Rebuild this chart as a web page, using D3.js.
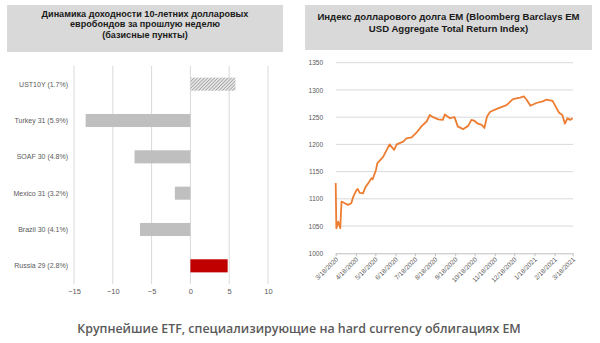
<!DOCTYPE html>
<html>
<head>
<meta charset="utf-8">
<script src="https://cdn.jsdelivr.net/npm/d3@7"></script>
<style>
  html, body { margin: 0; padding: 0; background: #fff; }
  svg { display: block; }
</style>
</head>
<body>
<svg id="chart" width="600" height="343"></svg>
<script>
// Weekly change in 10Y USD eurobond yields, basis points
const bondNames = ["UST10Y (1.7%)", "Turkey 31 (5.9%)", "SOAF 30 (4.8%)", "Mexico 31 (3.2%)", "Brazil 30 (4.1%)", "Russia 29 (2.8%)"];
const bondChange = [5.8, -13.5, -7.2, -2.0, -6.5, 4.8];
const bondTicks = [-15, -10, -5, 0, 5, 10];

// Bloomberg Barclays EM USD Aggregate Total Return Index
const indexDates = [
  "2020-03-18","2020-03-19","2020-03-22","2020-03-25","2020-03-27","2020-04-01","2020-04-06","2020-04-11",
  "2020-04-14","2020-04-19","2020-04-21","2020-04-24","2020-04-29","2020-05-03","2020-05-08","2020-05-12",
  "2020-05-14","2020-05-19","2020-05-21","2020-05-30","2020-06-09","2020-06-16","2020-06-20","2020-06-30",
  "2020-07-05","2020-07-13","2020-07-20","2020-07-28","2020-08-05","2020-08-10","2020-08-15","2020-08-23",
  "2020-08-30","2020-09-02","2020-09-10","2020-09-17","2020-09-22","2020-09-30","2020-10-08","2020-10-13",
  "2020-10-18","2020-10-23","2020-10-29","2020-11-02","2020-11-06","2020-11-11","2020-11-23","2020-12-06",
  "2020-12-16","2020-12-27","2021-01-02","2021-01-06","2021-01-12","2021-01-21","2021-01-31","2021-02-05",
  "2021-02-15","2021-02-20","2021-02-25","2021-03-02","2021-03-06","2021-03-10","2021-03-14","2021-03-18"
];
const indexValues = [
  1129, 1046, 1058, 1046, 1095, 1092, 1089, 1092,
  1104, 1116, 1118, 1111, 1110, 1122, 1130, 1138,
  1136, 1153, 1165, 1177, 1200, 1190, 1200, 1205,
  1211, 1213, 1221, 1233, 1242, 1254, 1250, 1246,
  1245, 1255, 1248, 1250, 1233, 1228, 1234, 1245,
  1243, 1238, 1236, 1230, 1251, 1260, 1266, 1272,
  1283, 1286, 1288, 1282, 1271, 1276, 1279, 1282,
  1280, 1269, 1258, 1254, 1238, 1248, 1245, 1248
];
const indexTicks = [1000, 1050, 1100, 1150, 1200, 1250, 1300, 1350];
const dateTicks = [
  "2020-03-18","2020-04-18","2020-05-18","2020-06-18","2020-07-18","2020-08-18","2020-09-18",
  "2020-10-18","2020-11-18","2020-12-18","2021-01-18","2021-02-18","2021-03-18"
];

const leftTitle = ["Динамика доходности 10-летних долларовых", "евробондов за прошлую неделю", "(базисные пункты)"];
const rightTitle = ["Индекс долларового долга EM (Bloomberg Barclays EM", "USD Aggregate Total Return Index)"];
const caption = "Крупнейшие ETF, специализирующие на hard currency облигациях EM";

const svg = d3.select("#chart");
const sans = "'Liberation Sans', Arial, sans-serif";
const labelGray = "#595959";
const gridGray = "#d9d9d9";

// ---------- title boxes ----------
function titleBox(x, y, w, h, lines, firstY, lh, size) {
  svg.append("rect").attr("x", x).attr("y", y).attr("width", w).attr("height", h).attr("fill", "#d9d9d9");
  svg.append("g").selectAll("text").data(lines).join("text")
    .attr("x", x + w / 2).attr("y", (d, i) => firstY + i * lh)
    .attr("text-anchor", "middle")
    .attr("font-family", sans).attr("font-weight", "bold").attr("font-size", size)
    .attr("fill", "#1a1a1a")
    .text(d => d);
}
titleBox(7, 5, 276, 47, leftTitle, 16.6, 10.5, 9.1);
titleBox(305, 5, 287, 45, rightTitle, 19.5, 12.2, 9.6);

// ---------- left: bar chart ----------
const xBar = d3.scaleLinear().domain([-15, 10]).range([74, 268]);
const yBar = d3.scaleBand().domain(bondNames).range([66, 284]).paddingInner(0.64).paddingOuter(0.32);

const defs = svg.append("defs");
const hatch = defs.append("pattern").attr("id", "hatch")
  .attr("patternUnits", "userSpaceOnUse").attr("width", 2.4).attr("height", 2.4)
  .attr("patternTransform", "rotate(45)");
hatch.append("rect").attr("width", 2.4).attr("height", 2.4).attr("fill", "#e6e6e6");
hatch.append("line").attr("x1", 0).attr("y1", 0).attr("x2", 0).attr("y2", 2.4)
  .attr("stroke", "#8c8c8c").attr("stroke-width", 1.2);

svg.append("g").selectAll("line").data(bondTicks).join("line")
  .attr("x1", d => xBar(d)).attr("x2", d => xBar(d))
  .attr("y1", 66).attr("y2", 284)
  .attr("stroke", gridGray).attr("stroke-width", 1);

const barColor = (d, i) => i === 0 ? "url(#hatch)" : (bondNames[i].startsWith("Russia") ? "#c00000" : "#bfbfbf");
svg.append("g").selectAll("rect").data(bondChange).join("rect")
  .attr("x", d => xBar(Math.min(0, d)))
  .attr("width", d => Math.abs(xBar(d) - xBar(0)))
  .attr("y", (d, i) => yBar(bondNames[i]))
  .attr("height", yBar.bandwidth())
  .attr("fill", barColor);

svg.append("g").selectAll("text").data(bondNames).join("text")
  .attr("x", 68).attr("y", d => yBar(d) + yBar.bandwidth() / 2)
  .attr("dy", "0.35em").attr("text-anchor", "end")
  .attr("font-family", sans).attr("font-size", 7).attr("fill", labelGray)
  .text(d => d);

const xAxisL = svg.append("g").attr("transform", "translate(0,289)")
  .call(d3.axisBottom(xBar).tickValues(bondTicks).tickSize(0).tickPadding(0).tickFormat(d3.format("d")));
xAxisL.select(".domain").remove();
xAxisL.selectAll("text").attr("font-family", sans).attr("font-size", 7.5).attr("fill", labelGray);

// ---------- right: line chart ----------
const parse = d3.timeParse("%Y-%m-%d");
const series = indexDates.map((d, i) => ({ date: parse(d), value: indexValues[i] }));
const xTime = d3.scaleTime().domain([parse("2020-03-18"), parse("2021-03-18")]).range([335.7, 572.7]);
const yIdx = d3.scaleLinear().domain([1000, 1350]).range([253.3, 62.7]);

svg.append("g").selectAll("line").data(indexTicks.slice(1)).join("line")
  .attr("x1", 336).attr("x2", 573)
  .attr("y1", d => yIdx(d)).attr("y2", d => yIdx(d))
  .attr("stroke", gridGray).attr("stroke-width", 1);

const yAxisR = svg.append("g").attr("transform", "translate(323,0)")
  .call(d3.axisLeft(yIdx).tickValues(indexTicks).tickSize(0).tickPadding(0).tickFormat(d3.format("d")));
yAxisR.select(".domain").remove();
yAxisR.selectAll("text").attr("font-family", sans).attr("font-size", 6.5).attr("fill", labelGray);

const xAxisR = svg.append("g").attr("transform", `translate(0,${yIdx(1000)})`)
  .call(d3.axisBottom(xTime).tickValues(dateTicks.map(parse)).tickSize(3).tickSizeOuter(0)
    .tickFormat(d3.timeFormat("%-m/%-d/%Y")));
xAxisR.select(".domain").attr("stroke", "#bfbfbf").attr("d", `M335.7,0.5H573`);
xAxisR.selectAll(".tick line").attr("stroke", "#bfbfbf");
xAxisR.selectAll("text")
  .attr("font-family", sans).attr("font-size", 6.5).attr("fill", labelGray)
  .attr("text-anchor", "end")
  .attr("transform", "rotate(-45)")
  .attr("x", -3).attr("y", 4).attr("dy", "0.35em");

const line = d3.line().x(d => xTime(d.date)).y(d => yIdx(d.value)).curve(d3.curveLinear);
svg.append("path").datum(series)
  .attr("d", line).attr("fill", "none")
  .attr("stroke", "#ed7d31").attr("stroke-width", 1.8).attr("stroke-linejoin", "round");

// ---------- caption ----------
svg.append("text")
  .attr("x", 299).attr("y", 333).attr("text-anchor", "middle")
  .attr("font-family", "'Open Sans', sans-serif").attr("font-weight", 600).attr("font-size", 12.4)
  .attr("fill", labelGray)
  .text(caption);
</script>
</body>
</html>
